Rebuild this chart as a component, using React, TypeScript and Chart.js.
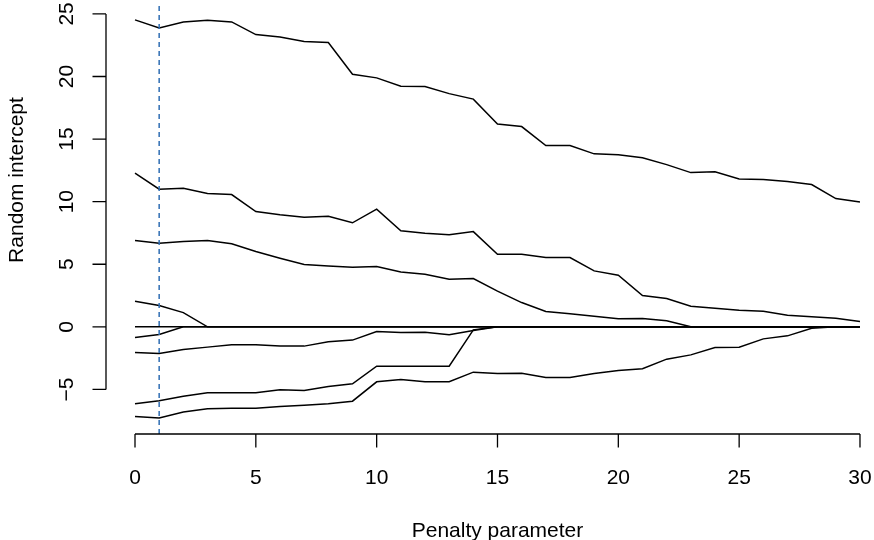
import React, { useEffect, useRef } from "react";
import { Chart, registerables } from "chart.js";

Chart.register(...registerables);

// Penalty grid and the random-intercept paths for each group
const penalty = [0, 1, 2, 3, 4, 5, 6, 7, 8, 9, 10, 11, 12, 13, 14, 15, 16, 17, 18, 19, 20, 21, 22, 23, 24, 25, 26, 27, 28, 29, 30];

const group1 = [24.52, 23.88, 24.36, 24.49, 24.36, 23.35, 23.16, 22.79, 22.71, 20.18, 19.89, 19.22, 19.19, 18.63, 18.19, 16.2, 16.0, 14.48, 14.48, 13.82, 13.74, 13.5, 12.96, 12.32, 12.38, 11.82, 11.77, 11.61, 11.37, 10.25, 9.98];
const group2 = [12.27, 11.0, 11.07, 10.65, 10.57, 9.21, 8.95, 8.76, 8.84, 8.31, 9.4, 7.67, 7.48, 7.35, 7.61, 5.8, 5.8, 5.54, 5.54, 4.47, 4.13, 2.5, 2.26, 1.65, 1.49, 1.33, 1.25, 0.93, 0.8, 0.69, 0.43];
const group3 = [6.9, 6.68, 6.82, 6.9, 6.63, 6.02, 5.48, 4.98, 4.87, 4.77, 4.82, 4.39, 4.2, 3.8, 3.86, 2.85, 1.94, 1.22, 1.04, 0.85, 0.64, 0.66, 0.48, 0, 0, 0, 0, 0, 0, 0, 0];
const group4 = [2.05, 1.7, 1.14, 0, 0, 0, 0, 0, 0, 0, 0, 0, 0, 0, 0, 0, 0, 0, 0, 0, 0, 0, 0, 0, 0, 0, 0, 0, 0, 0, 0];
const group5 = [0, 0, 0, 0, 0, 0, 0, 0, 0, 0, 0, 0, 0, 0, 0, 0, 0, 0, 0, 0, 0, 0, 0, 0, 0, 0, 0, 0, 0, 0, 0];
const group6 = [-0.85, -0.61, 0, 0, 0, 0, 0, 0, 0, 0, 0, 0, 0, 0, 0, 0, 0, 0, 0, 0, 0, 0, 0, 0, 0, 0, 0, 0, 0, 0, 0];
const group7 = [-2.05, -2.13, -1.81, -1.62, -1.44, -1.44, -1.54, -1.54, -1.2, -1.06, -0.37, -0.45, -0.43, -0.64, -0.29, 0, 0, 0, 0, 0, 0, 0, 0, 0, 0, 0, 0, 0, 0, 0, 0];
const group8 = [-6.15, -5.91, -5.54, -5.27, -5.27, -5.27, -5.03, -5.09, -4.77, -4.55, -3.14, -3.14, -3.14, -3.14, -0.24, 0, 0, 0, 0, 0, 0, 0, 0, 0, 0, 0, 0, 0, 0, 0, 0];
const group9 = [-7.16, -7.29, -6.81, -6.55, -6.5, -6.5, -6.36, -6.26, -6.15, -5.94, -4.39, -4.21, -4.39, -4.39, -3.62, -3.73, -3.7, -4.05, -4.05, -3.73, -3.49, -3.35, -2.58, -2.24, -1.65, -1.63, -0.96, -0.72, -0.11, 0, 0];

const paths = [group1, group2, group3, group4, group5, group6, group7, group8, group9];

// Axis ticks and the chosen penalty
const xTicks = [0, 5, 10, 15, 20, 25, 30];
const yTicks = [-5, 0, 5, 10, 15, 20, 25];
const selectedPenalty = 1;

const xTitle = "Penalty parameter";
const yTitle = "Random intercept";

const FONT_FAMILY = '"Liberation Sans", Arial, Helvetica, sans-serif';
const LABEL_FONT = `21px ${FONT_FAMILY}`;

const fmt = (v: number) => (v < 0 ? "\u2212" + Math.abs(v) : String(v));

// Base-graphics style axes: lines span first..last tick, ticks point outward
const baseAxes = {
  id: "baseAxes",
  afterDatasetsDraw(chart: any) {
    const { ctx, chartArea, scales } = chart;
    const xs = scales.x;
    const ys = scales.y;

    // dashed marker at the selected penalty
    ctx.save();
    ctx.strokeStyle = "#2f6db3";
    ctx.lineWidth = 1.5;
    ctx.setLineDash([5, 4]);
    const vx = xs.getPixelForValue(selectedPenalty);
    ctx.beginPath();
    ctx.moveTo(vx, chartArea.bottom);
    ctx.lineTo(vx, chartArea.top);
    ctx.stroke();
    ctx.restore();

    ctx.save();
    ctx.strokeStyle = "#000";
    ctx.fillStyle = "#000";
    ctx.lineWidth = 1.3;
    const tick = 13.5;

    // x axis
    const xb = chartArea.bottom;
    ctx.beginPath();
    ctx.moveTo(xs.getPixelForValue(xTicks[0]), xb);
    ctx.lineTo(xs.getPixelForValue(xTicks[xTicks.length - 1]), xb);
    for (const t of xTicks) {
      const p = xs.getPixelForValue(t);
      ctx.moveTo(p, xb);
      ctx.lineTo(p, xb + tick);
    }
    ctx.stroke();
    ctx.font = LABEL_FONT;
    ctx.textAlign = "center";
    ctx.textBaseline = "alphabetic";
    for (const t of xTicks) {
      ctx.fillText(fmt(t), xs.getPixelForValue(t), xb + 50);
    }
    const xMid = (xs.getPixelForValue(xTicks[0]) + xs.getPixelForValue(xTicks[xTicks.length - 1])) / 2;
    ctx.fillText(xTitle, xMid, xb + 103);

    // y axis
    const yl = chartArea.left;
    ctx.beginPath();
    ctx.moveTo(yl, ys.getPixelForValue(yTicks[0]));
    ctx.lineTo(yl, ys.getPixelForValue(yTicks[yTicks.length - 1]));
    for (const t of yTicks) {
      const p = ys.getPixelForValue(t);
      ctx.moveTo(yl, p);
      ctx.lineTo(yl - tick, p);
    }
    ctx.stroke();
    for (const t of yTicks) {
      const p = ys.getPixelForValue(t);
      ctx.save();
      ctx.translate(yl - 33, p);
      ctx.rotate(-Math.PI / 2);
      ctx.textAlign = "center";
      ctx.fillText(fmt(t), 0, 0);
      ctx.restore();
    }
    ctx.save();
    ctx.translate(yl - 83, 180);
    ctx.rotate(-Math.PI / 2);
    ctx.textAlign = "center";
    ctx.fillText(yTitle, 0, 0);
    ctx.restore();
    ctx.restore();
  },
};

export default function App() {
  const ref = useRef<HTMLCanvasElement | null>(null);

  useEffect(() => {
    if (!ref.current) return;
    const chart = new Chart(ref.current, {
      type: "line",
      data: {
        datasets: paths.map((vals, i) => ({
          label: `group ${i + 1}`,
          data: penalty.map((x, j) => ({ x, y: vals[j] })),
          borderColor: "#000",
          borderWidth: 1.5,
          pointRadius: 0,
          tension: 0,
          fill: false,
        })),
      },
      options: {
        responsive: false,
        animation: false,
        devicePixelRatio: 1,
        layout: { padding: { left: 106, right: 0, top: 4, bottom: 106 } },
        plugins: { legend: { display: false }, tooltip: { enabled: false } },
        scales: {
          x: { type: "linear", min: -1.2, max: 30.58, display: false },
          y: { type: "linear", min: -8.56, max: 25.79, display: false },
        },
      },
      plugins: [baseAxes],
    });
    return () => chart.destroy();
  }, []);

  return (
    <div style={{ position: "absolute", left: 0, top: 0, width: 874, height: 540, background: "#fff" }}>
      <canvas ref={ref} width={874} height={540} style={{ width: 874, height: 540, display: "block" }} />
    </div>
  );
}
